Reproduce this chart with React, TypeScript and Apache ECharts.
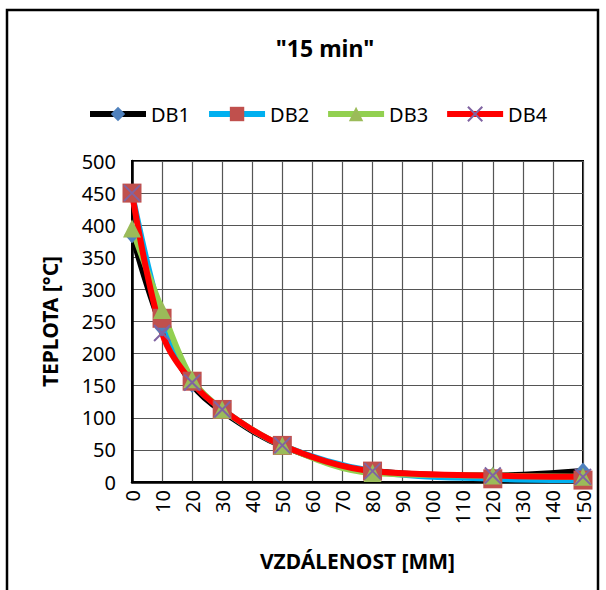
import React, { useEffect, useRef } from "react";
import * as echarts from "echarts";

const xValues = [0, 10, 20, 30, 50, 80, 120, 150];
const db1 = [385, 240, 152, 110, 56, 17, 10, 17];
const db2 = [450, 255, 157, 113, 57, 17, 5, 3];
const db3 = [395, 268, 160, 113, 57, 14, 10, 8];
const db4 = [450, 232, 155, 113, 57, 17, 10, 8];
const seriesNames = ["DB1", "DB2", "DB3", "DB4"];

const FONT = "'Noto Sans', 'Liberation Sans', sans-serif";

export default function App() {
  const ref = useRef<HTMLDivElement>(null);
  useEffect(() => {
    if (!ref.current) return;
    const chart = echarts.init(ref.current, null, { renderer: "svg" });
    const pair = (arr: number[]) => xValues.map((x, i) => [x, arr[i]]);
    const mk = (
      name: string,
      data: number[],
      lineColor: string,
      symbol: string,
      symbolSize: number | number[],
      itemStyle: any
    ) => ({
      name,
      type: "line",
      data: pair(data),
      smooth: 0.35,
      clip: false,
      symbol,
      symbolSize,
      showAllSymbol: true,
      lineStyle: { color: lineColor, width: 6 },
      itemStyle,
    });
    const option: any = {
      animation: false,
      textStyle: { fontFamily: FONT },
      title: {
        text: '"15 min"',
        left: 320,
        top: 31,
        textAlign: "center",
        textStyle: { fontSize: 23, fontWeight: "bold", color: "#000", fontFamily: FONT },
      },
      legend: {
        top: 99,
        left: 82,
        itemWidth: 56,
        itemHeight: 18,
        itemGap: 16,
        lineStyle: { width: 6 },
        textStyle: { fontSize: 20, color: "#000", fontFamily: FONT },
        data: seriesNames,
      },
      graphic: [
        {
          type: "rect",
          shape: { x: 7, y: 10, width: 591, height: 620 },
          style: { fill: "none", stroke: "#000", lineWidth: 2.5 },
          silent: true,
        },
      ],
      grid: {
        left: 132,
        right: 23,
        top: 161,
        bottom: 108,
        show: true,
        borderColor: "#000",
        borderWidth: 2,
      },
      xAxis: {
        type: "value",
        min: 0,
        max: 150,
        interval: 10,
        name: "VZDÁLENOST [MM]",
        nameLocation: "middle",
        nameGap: 68,
        nameTextStyle: { fontSize: 21, fontWeight: "bold", color: "#000", fontFamily: FONT },
        axisLine: { show: true, lineStyle: { color: "#000", width: 2.5 } },
        axisTick: { show: false },
        axisLabel: { rotate: 90, fontSize: 20, color: "#000", margin: 8, fontFamily: FONT },
        splitLine: { show: true, lineStyle: { color: "#555", width: 1.2 } },
      },
      yAxis: {
        type: "value",
        min: 0,
        max: 500,
        interval: 50,
        name: "TEPLOTA [°C]",
        nameLocation: "middle",
        nameGap: 72,
        nameRotate: 90,
        nameTextStyle: { fontSize: 21, fontWeight: "bold", color: "#000", fontFamily: FONT },
        axisLine: { show: true, lineStyle: { color: "#000", width: 2.5 } },
        axisTick: { show: false },
        axisLabel: { fontSize: 20, color: "#000", margin: 16, fontFamily: FONT },
        splitLine: { show: true, lineStyle: { color: "#555", width: 1.2 } },
      },
      series: [
        mk("DB1", db1, "#000000", "diamond", [15, 17], { color: "#4F81BD" }),
        mk("DB2", db2, "#00B0F0", "rect", 19, { color: "#C0504D" }),
        mk("DB3", db3, "#92D050", "triangle", 18, { color: "#9BBB59" }),
        mk("DB4", db4, "#FF0000", "path://M0,0L10,10M10,0L0,10", 16, {
          color: "none",
          borderColor: "#8064A2",
          borderWidth: 2,
        }),
      ],
    };
    chart.setOption(option);
    return () => chart.dispose();
  }, []);
  return (
    <div
      ref={ref}
      style={{ position: "fixed", left: 0, top: 0, width: 606, height: 590, background: "#fff" }}
    />
  );
}
